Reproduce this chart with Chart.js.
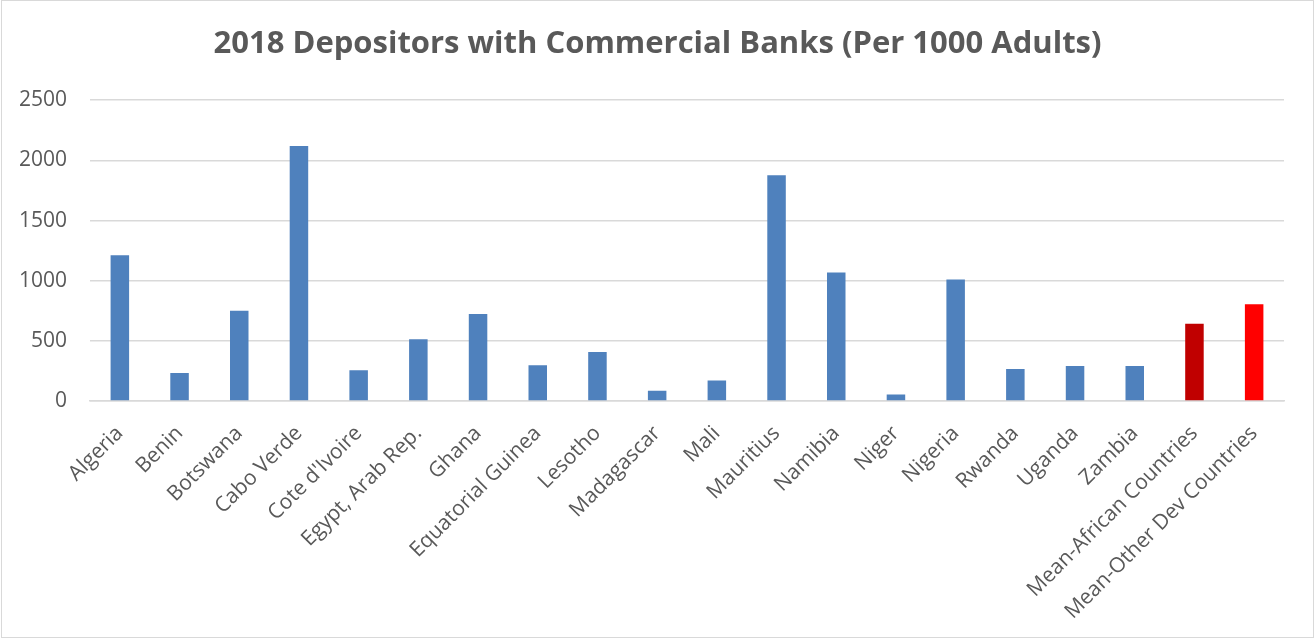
<!DOCTYPE html>
<html lang="en">
<head>
  <meta charset="UTF-8">
  <title>2018 Depositors with Commercial Banks</title>
  <script src="https://cdn.jsdelivr.net/npm/chart.js"></script>
  <style>
    html, body { margin: 0; padding: 0; background: #fff; }
    .moldura {
      position: absolute; left: 1px; top: 0;
      width: 1311px; height: 636px;
      border: 1px solid #d9d9d9;
    }
  </style>
</head>
<body>
  <div class="moldura">
    <canvas id="grafico"></canvas>
  </div>
<script>
  const paises = ['Algeria', 'Benin', 'Botswana', 'Cabo Verde', "Cote d'Ivoire", 'Egypt, Arab Rep.', 'Ghana',
    'Equatorial Guinea', 'Lesotho', 'Madagascar', 'Mali', 'Mauritius', 'Namibia', 'Niger', 'Nigeria',
    'Rwanda', 'Uganda', 'Zambia', 'Mean-African Countries', 'Mean-Other Dev Countries'];
  const depositantes = [1211, 233, 751, 2120, 255, 513, 723, 297, 407, 86, 170, 1876, 1067, 53, 1009,
    266, 291, 291, 643, 804];
  const marcasY = [0, 500, 1000, 1500, 2000, 2500];

  // as duas médias saem em vermelho, o resto em azul
  const cores = paises.map(p =>
    p === 'Mean-African Countries' ? '#c00000' :
    p === 'Mean-Other Dev Countries' ? '#ff0000' : '#4f81bd');

  const cinza = '#595959';

  new Chart(document.getElementById('grafico'), {
    type: 'bar',
    data: {
      labels: paises,
      datasets: [{
        label: 'Depositors',
        data: depositantes,
        backgroundColor: cores,
        borderWidth: 0,
        barPercentage: 0.31,
        categoryPercentage: 1
      }]
    },
    options: {
      responsive: true,
      maintainAspectRatio: false,
      animation: false,
      layout: { padding: 0 },
      plugins: {
        legend: { display: false },
        tooltip: { enabled: false },
        title: {
          display: true,
          text: '2018 Depositors with Commercial Banks (Per 1000 Adults)',
          color: cinza,
          font: { family: 'Open Sans', size: 31, weight: 'bold' },
          padding: { top: 25, bottom: 37 }
        }
      },
      scales: {
        x: {
          grid: { display: false },
          border: { display: true, color: '#d9d9d9', width: 1.5 },
          ticks: {
            color: cinza,
            font: { family: 'Open Sans', size: 21 },
            maxRotation: 45,
            minRotation: 45,
            autoSkip: false,
            padding: 12
          },
          afterFit: s => { s.height = 236; }
        },
        y: {
          min: 0,
          max: 2500,
          afterBuildTicks: s => { s.ticks = marcasY.map(v => ({ value: v })); },
          grid: { color: '#d9d9d9', lineWidth: 1.5, drawTicks: false },
          border: { display: false },
          ticks: {
            color: cinza,
            font: { family: 'Open Sans', size: 21 },
            padding: 23,
            callback: v => String(v)
          },
          afterFit: s => { s.width = 88; }
        },
        // eixo vazio à direita, só para reservar a margem sem descentrar o título
        margemDireita: {
          position: 'right',
          grid: { display: false },
          border: { display: false },
          ticks: { display: false },
          afterFit: s => { s.width = 29; }
        }
      }
    }
  });
</script>
</body>
</html>
